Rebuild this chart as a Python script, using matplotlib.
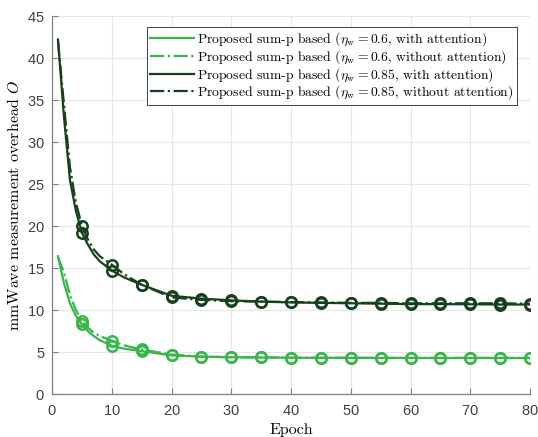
import matplotlib
matplotlib.use("Agg")
import matplotlib.pyplot as plt

plt.rcParams['mathtext.fontset'] = 'cm'
plt.rcParams['font.family'] = 'serif'
plt.rcParams['font.serif'] = ['cmr10']
plt.rcParams['axes.formatter.use_mathtext'] = True

# Epochs at which the training curves are sampled
epochs = [1, 2, 3, 4, 5, 6, 7, 8, 10, 12, 15, 20, 25, 30, 35, 40, 45, 50, 55, 60, 65, 70, 75, 80]
# Marker epochs
marker_epochs = [5, 10, 15, 20, 25, 30, 35, 40, 45, 50, 55, 60, 65, 70, 75, 80]

g06_att = [16.4, 13.2, 10.8, 9.3, 8.3, 7.5, 6.9, 6.4, 5.75, 5.4, 5.1, 4.6, 4.45, 4.38, 4.35, 4.32,
           4.3, 4.3, 4.29, 4.29, 4.28, 4.28, 4.28, 4.28]
g06_noatt = [16.3, 14.5, 11.8, 10.0, 8.7, 7.9, 7.3, 6.9, 6.35, 5.8, 5.3, 4.7, 4.45, 4.38, 4.35, 4.33,
             4.32, 4.31, 4.3, 4.3, 4.3, 4.3, 4.3, 4.3]
g085_att = [42.2, 33.0, 25.5, 21.8, 19.2, 17.8, 16.6, 15.8, 14.7, 13.9, 13.0, 11.7, 11.35, 11.15,
            11.0, 10.9, 10.85, 10.8, 10.75, 10.7, 10.7, 10.68, 10.65, 10.65]
g085_noatt = [42.0, 34.5, 27.0, 22.8, 20.0, 18.4, 17.2, 16.4, 15.4, 14.3, 13.0, 11.5, 11.2, 11.05,
              11.0, 10.95, 10.9, 10.85, 10.85, 10.8, 10.8, 10.8, 10.8, 10.75]

labels = [
    r'Proposed sum-p based ($\eta_{\rm w}=0.6$, with attention)',
    r'Proposed sum-p based ($\eta_{\rm w}=0.6$, without attention)',
    r'Proposed sum-p based ($\eta_{\rm w}=0.85$, with attention)',
    r'Proposed sum-p based ($\eta_{\rm w}=0.85$, without attention)',
]

light = '#3ab54a'
dark = '#17401c'
series = [(g06_att, light, '-'), (g06_noatt, light, '-.'),
          (g085_att, dark, '-'), (g085_noatt, dark, '-.')]

fig = plt.figure(figsize=(5.38, 4.37), dpi=100)
ax = fig.add_axes([52 / 538, 1 - 394 / 437, 478 / 538, 378 / 437])

for (vals, col, ls), lab in zip(series, labels):
    ax.plot(epochs, vals, color=col, linestyle=ls, linewidth=1.6, label=lab)
    mvals = [v for e, v in zip(epochs, vals) if e in marker_epochs]
    ax.plot(marker_epochs, mvals, linestyle='none', marker='o', markersize=7.5,
            markerfacecolor='none', markeredgecolor=col, markeredgewidth=1.8)

ax.set_xlim(0, 80)
ax.set_ylim(0, 45)
ax.set_xticks(range(0, 81, 10))
ax.set_yticks(range(0, 46, 5))
ax.grid(True, color='#e6e6e6', linewidth=0.8)
ax.set_axisbelow(True)
ax.tick_params(direction='in', labelsize=10.5, labelcolor='#404040', color='#808080', length=4)
ax.tick_params(axis='x', pad=7)
ax.tick_params(axis='y', pad=5)
for lbl in ax.get_xticklabels() + ax.get_yticklabels():
    lbl.set_family('Liberation Sans')
for side in ('top', 'right'):
    ax.spines[side].set_visible(False)
for side in ('left', 'bottom'):
    ax.spines[side].set_color('#808080')
    ax.spines[side].set_linewidth(0.9)

ax.set_xlabel('Epoch', fontsize=11.5, labelpad=4)
ax.set_ylabel(r'mmWave measurement overhead $O$', fontsize=11.5, labelpad=4)

leg = ax.legend(loc='upper right', prop={'size': 9.8},
                handlelength=3.2, borderpad=0.25, labelspacing=0.0, handletextpad=0.25,
                borderaxespad=0.0, fancybox=False, framealpha=1, edgecolor='#404040',
                bbox_to_anchor=(0.973, 0.971))
leg.get_frame().set_linewidth(0.7)

fig.savefig('out.png', dpi=100)
